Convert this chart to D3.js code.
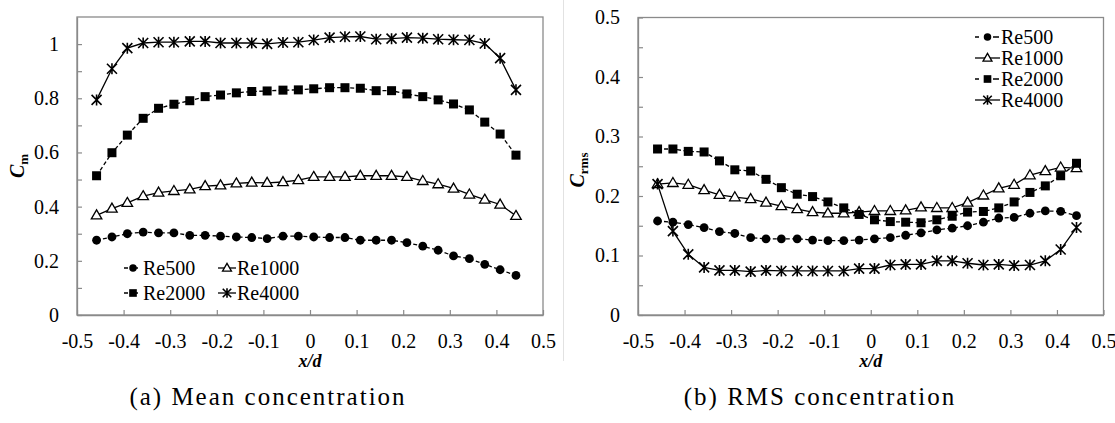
<!DOCTYPE html>
<html>
<head>
<meta charset="utf-8">
<script src="https://cdn.jsdelivr.net/npm/d3@7"></script>
<style>
  html, body { margin: 0; padding: 0; background: #fff; }
  svg { display: block; }
</style>
</head>
<body>
<svg id="fig" width="1115" height="423"></svg>
<script>
// Measurement positions across the jet (x/d)
const xPos = [-0.458, -0.425, -0.392, -0.358, -0.325, -0.292, -0.258, -0.225, -0.192, -0.158,
              -0.125, -0.092, -0.058, -0.025, 0.008, 0.042, 0.075, 0.108, 0.142, 0.175,
              0.208, 0.242, 0.275, 0.308, 0.342, 0.375, 0.408, 0.442];

const seriesNames = ["Re500", "Re1000", "Re2000", "Re4000"];

// Mean concentration C_m
const meanRe500  = [0.276, 0.288, 0.300, 0.306, 0.303, 0.303, 0.294, 0.294, 0.291, 0.288, 0.286, 0.282,
                    0.291, 0.291, 0.288, 0.286, 0.286, 0.276, 0.276, 0.276, 0.267, 0.254, 0.239, 0.218,
                    0.208, 0.187, 0.167, 0.146];
const meanRe1000 = [0.368, 0.393, 0.414, 0.439, 0.452, 0.458, 0.464, 0.476, 0.479, 0.486, 0.489, 0.488,
                    0.491, 0.498, 0.510, 0.510, 0.510, 0.514, 0.514, 0.514, 0.510, 0.495, 0.483, 0.467,
                    0.445, 0.426, 0.408, 0.366];
const meanRe2000 = [0.514, 0.599, 0.664, 0.726, 0.763, 0.778, 0.791, 0.806, 0.812, 0.820, 0.825, 0.827,
                    0.830, 0.831, 0.835, 0.839, 0.839, 0.837, 0.828, 0.828, 0.816, 0.806, 0.794, 0.779,
                    0.757, 0.712, 0.668, 0.590];
const meanRe4000 = [0.794, 0.909, 0.985, 1.004, 1.007, 1.007, 1.010, 1.010, 1.004, 1.004, 1.004, 1.001,
                    1.006, 1.007, 1.015, 1.024, 1.027, 1.028, 1.018, 1.020, 1.024, 1.022, 1.018, 1.016,
                    1.015, 1.002, 0.948, 0.831];

// RMS concentration C_rms
const rmsRe500  = [0.158, 0.156, 0.152, 0.147, 0.140, 0.137, 0.130, 0.128, 0.128, 0.128, 0.126, 0.125,
                   0.125, 0.126, 0.128, 0.130, 0.134, 0.138, 0.143, 0.146, 0.150, 0.156, 0.163, 0.164,
                   0.171, 0.175, 0.174, 0.167];
const rmsRe1000 = [0.220, 0.222, 0.219, 0.210, 0.202, 0.198, 0.195, 0.189, 0.183, 0.178, 0.173, 0.171,
                   0.171, 0.173, 0.175, 0.175, 0.176, 0.181, 0.180, 0.180, 0.189, 0.201, 0.213, 0.219,
                   0.235, 0.242, 0.248, 0.247];
const rmsRe2000 = [0.279, 0.279, 0.275, 0.274, 0.259, 0.244, 0.242, 0.228, 0.214, 0.203, 0.199, 0.190,
                   0.180, 0.169, 0.160, 0.157, 0.156, 0.155, 0.160, 0.166, 0.173, 0.174, 0.180, 0.190,
                   0.206, 0.217, 0.234, 0.255];
const rmsRe4000 = [0.220, 0.141, 0.102, 0.080, 0.075, 0.075, 0.073, 0.075, 0.074, 0.074, 0.074, 0.074,
                   0.074, 0.078, 0.078, 0.084, 0.085, 0.085, 0.091, 0.091, 0.087, 0.084, 0.085, 0.083,
                   0.084, 0.091, 0.110, 0.147];

// Axis ticks
const xTicks      = [-0.5, -0.4, -0.3, -0.2, -0.1, 0, 0.1, 0.2, 0.3, 0.4, 0.5];
const xTickLabels = ["-0.5", "-0.4", "-0.3", "-0.2", "-0.1", "0", "0.1", "0.2", "0.3", "0.4", "0.5"];
const meanYTicks      = [0, 0.1, 0.2, 0.3, 0.4, 0.5, 0.6, 0.7, 0.8, 0.9, 1.0];
const meanYTickLabels = ["0", "", "0.2", "", "0.4", "", "0.6", "", "0.8", "", "1"];
const rmsYTicks      = [0, 0.05, 0.1, 0.15, 0.2, 0.25, 0.3, 0.35, 0.4, 0.45, 0.5];
const rmsYTickLabels = ["0", "", "0.1", "", "0.2", "", "0.3", "", "0.4", "", "0.5"];

const FONT = '"Liberation Serif"';
const svg = d3.select("#fig");
const axisColor = "#8a8a8a";

// apply the serif face and size to a text selection
function serif(sel, size) {
  return sel.style("font-family", FONT).style("font-size", size + "px").attr("fill", "#000");
}

// Series appearance: marker type and line dash
const styles = {
  Re500:  { marker: "circle",   dash: "4,2.5" },
  Re1000: { marker: "triangle", dash: null },
  Re2000: { marker: "square",   dash: "4,2.5" },
  Re4000: { marker: "star",     dash: null }
};

function drawMarker(g, type, x, y, k) {
  k = k || 1;
  if (type === "circle") {
    g.append("circle").attr("cx", x).attr("cy", y).attr("r", 4.4 * k).attr("fill", "#000");
  } else if (type === "square") {
    const s = 9 * k;
    g.append("rect").attr("x", x - s / 2).attr("y", y - s / 2).attr("width", s).attr("height", s).attr("fill", "#000");
  } else if (type === "triangle") {
    const h = 9 * k, w = 10.5 * k;
    g.append("path")
      .attr("d", `M${x},${y - h * 0.6}L${x + w / 2},${y + h * 0.4}L${x - w / 2},${y + h * 0.4}Z`)
      .attr("fill", "#fff").attr("stroke", "#000").attr("stroke-width", 1.3);
  } else if (type === "star") {
    const s = 5 * k;
    g.append("path")
      .attr("d", `M${x - s},${y - s}L${x + s},${y + s}M${x + s},${y - s}L${x - s},${y + s}M${x},${y - s - 0.5}L${x},${y + s + 0.5}`)
      .attr("fill", "none").attr("stroke", "#000").attr("stroke-width", 1.6);
  }
}

function drawPanel(cfg) {
  const x = d3.scaleLinear().domain([-0.5, 0.5]).range([cfg.left, cfg.right]);
  const y = d3.scaleLinear().domain(cfg.yDomain).range([cfg.bottom, cfg.top]);
  const g = svg.append("g");

  // plot frame
  g.append("rect")
    .attr("x", cfg.left).attr("y", cfg.top)
    .attr("width", cfg.right - cfg.left).attr("height", cfg.bottom - cfg.top)
    .attr("fill", "none").attr("stroke", axisColor).attr("stroke-width", 1.3);

  // x axis with inward ticks
  const xAxis = d3.axisBottom(x)
    .tickValues(xTicks)
    .tickFormat((d, i) => xTickLabels[i])
    .tickSizeInner(-5).tickSizeOuter(0).tickPadding(19);
  const gx = g.append("g").attr("transform", `translate(0,${cfg.bottom})`).call(xAxis)
    .attr("font-family", null).attr("font-size", null);
  gx.select(".domain").attr("stroke", axisColor).attr("stroke-width", 1.3);
  gx.selectAll(".tick line").attr("stroke", axisColor).attr("stroke-width", 1.2);
  serif(gx.selectAll(".tick text"), 20);

  // y axis with inward ticks
  const yAxis = d3.axisLeft(y)
    .tickValues(cfg.yTicks)
    .tickFormat((d, i) => cfg.yTickLabels[i])
    .tickSizeInner(-5).tickSizeOuter(0).tickPadding(18);
  const gy = g.append("g").attr("transform", `translate(${cfg.left},0)`).call(yAxis)
    .attr("font-family", null).attr("font-size", null);
  gy.select(".domain").attr("stroke", axisColor).attr("stroke-width", 1.3);
  gy.selectAll(".tick line").attr("stroke", axisColor).attr("stroke-width", 1.2);
  serif(gy.selectAll(".tick text"), 20);

  // series lines and markers
  const line = d3.line().x(d => x(d[0])).y(d => y(d[1]));
  cfg.series.forEach((vals, si) => {
    const st = styles[seriesNames[si]];
    const pts = xPos.map((xv, i) => [xv, vals[i]]);
    const sg = g.append("g");
    sg.append("path").datum(pts).attr("d", line)
      .attr("fill", "none").attr("stroke", "#000").attr("stroke-width", 1.3)
      .attr("stroke-dasharray", st.dash);
    pts.forEach(p => drawMarker(sg, st.marker, x(p[0]), y(p[1])));
  });

  // legend
  const lg = g.append("g");
  seriesNames.forEach((name, i) => {
    const pos = cfg.legendPos(i);
    const st = styles[name];
    lg.append("line")
      .attr("x1", pos.x).attr("x2", pos.x + cfg.legendSample)
      .attr("y1", pos.y).attr("y2", pos.y)
      .attr("stroke", "#000").attr("stroke-width", 1.3)
      .attr("stroke-dasharray", st.dash ? "4,6,4" : null);
    drawMarker(lg, st.marker, pos.x + cfg.legendSample / 2, pos.y, 0.85);
    serif(lg.append("text"), 20)
      .attr("x", pos.x + cfg.legendSample + 1).attr("y", pos.y)
      .attr("dy", "0.34em")
      .text(name);
  });

  // axis titles
  const cx = (cfg.left + cfg.right) / 2;
  serif(g.append("text"), 18)
    .attr("x", cx).attr("y", cfg.bottom + 52)
    .attr("text-anchor", "middle")
    .style("font-weight", "bold").style("font-style", "italic")
    .text("x/d");

  const yt = serif(g.append("text"), 20)
    .attr("transform", `translate(${cfg.yTitleX},${cfg.yTitleY}) rotate(-90)`)
    .attr("text-anchor", "middle")
    .style("font-weight", "bold");
  yt.append("tspan").style("font-style", "italic").text("C");
  yt.append("tspan").attr("dy", "0.3em").style("font-size", "13px").text(cfg.ySub);

  // panel caption
  serif(g.append("text"), 25)
    .attr("x", cfg.captionX).attr("y", 405)
    .attr("text-anchor", "middle")
    .style("letter-spacing", "2px")
    .text(cfg.caption);
}

// faint chart-area border of the right panel
svg.append("line").attr("x1", 563.5).attr("x2", 563.5).attr("y1", 0).attr("y2", 361)
  .attr("stroke", "#e2e2e2").attr("stroke-width", 1);

drawPanel({
  left: 77, right: 543, top: 17, bottom: 315,
  yDomain: [0, 1.1], yTicks: meanYTicks, yTickLabels: meanYTickLabels,
  series: [meanRe500, meanRe1000, meanRe2000, meanRe4000],
  legendSample: 18,
  legendPos: i => ({ x: i % 2 === 0 ? 124 : 218, y: i < 2 ? 268 : 293 }),
  yTitleX: 24, yTitleY: 166, ySub: "m",
  captionX: 268, caption: "(a) Mean concentration"
});

drawPanel({
  left: 638, right: 1103.5, top: 17.5, bottom: 315,
  yDomain: [0, 0.5], yTicks: rmsYTicks, yTickLabels: rmsYTickLabels,
  series: [rmsRe500, rmsRe1000, rmsRe2000, rmsRe4000],
  legendSample: 25,
  legendPos: i => ({ x: 975, y: 37 + i * 21 }),
  yTitleX: 584, yTitleY: 170, ySub: "rms",
  captionX: 820, caption: "(b) RMS concentration"
});
</script>
</body>
</html>
